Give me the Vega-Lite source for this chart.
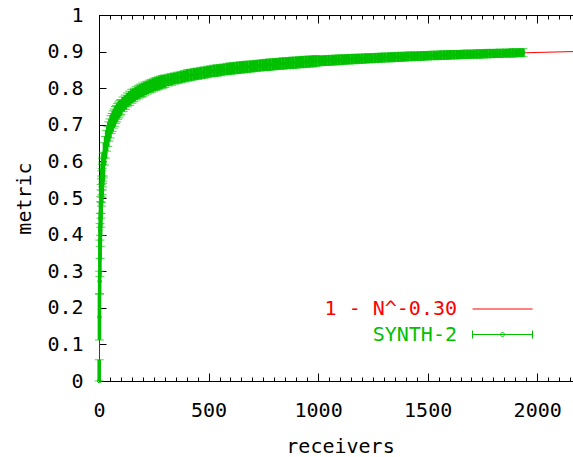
{
  "$schema": "https://vega.github.io/schema/vega-lite/v6.json",
  "width": 482,
  "height": 366,
  "autosize": {"type": "none"},
  "padding": {"left": 99, "top": 15, "right": 0, "bottom": 76},
  "background": "white",
  "config": {
    "font": "DejaVu Sans Mono",
    "view": {"stroke": "#000", "strokeWidth": 1},
    "axis": {
      "grid": false,
      "labelFont": "DejaVu Sans Mono",
      "labelFontSize": 20,
      "labelColor": "#000",
      "titleFont": "DejaVu Sans Mono",
      "titleFontSize": 20,
      "titleFontWeight": "normal",
      "titleColor": "#000",
      "domainColor": "#000",
      "tickColor": "#000",
      "labelFlush": false,
      "labelOverlap": false
    }
  },
  "datasets": {
    "curve": [
      {"N": 1, "metric": 0},
      {"N": 1.5, "metric": 0.1145},
      {"N": 2, "metric": 0.1877},
      {"N": 3, "metric": 0.2808},
      {"N": 4, "metric": 0.3402},
      {"N": 5, "metric": 0.383},
      {"N": 7, "metric": 0.4422},
      {"N": 10, "metric": 0.4988},
      {"N": 15, "metric": 0.5562},
      {"N": 20, "metric": 0.5929},
      {"N": 30, "metric": 0.6395},
      {"N": 50, "metric": 0.6907},
      {"N": 75, "metric": 0.7262},
      {"N": 100, "metric": 0.7488},
      {"N": 150, "metric": 0.7776},
      {"N": 200, "metric": 0.796},
      {"N": 300, "metric": 0.8194},
      {"N": 400, "metric": 0.8343},
      {"N": 500, "metric": 0.8451},
      {"N": 700, "metric": 0.8599},
      {"N": 1000, "metric": 0.8741},
      {"N": 1300, "metric": 0.8836},
      {"N": 1600, "metric": 0.8907},
      {"N": 2000, "metric": 0.8977},
      {"N": 2200, "metric": 0.9006}
    ],
    "synth": [
      {"N": 1, "mean": 0, "lo": 0, "hi": 0.058},
      {"N": 2, "mean": 0.175, "lo": 0.112, "hi": 0.238},
      {"N": 3, "mean": 0.272, "lo": 0.238, "hi": 0.3},
      {"N": 4, "mean": 0.335, "lo": 0.285, "hi": 0.385},
      {"N": 5, "mean": 0.385, "lo": 0.335, "hi": 0.43},
      {"N": 6, "mean": 0.412, "lo": 0.368, "hi": 0.458},
      {"N": 7, "mean": 0.445, "lo": 0.398, "hi": 0.49},
      {"N": 8, "mean": 0.462, "lo": 0.42, "hi": 0.505},
      {"N": 9, "mean": 0.485, "lo": 0.445, "hi": 0.522},
      {"N": 10, "mean": 0.497, "lo": 0.458, "hi": 0.537},
      {"N": 11, "mean": 0.515, "lo": 0.478, "hi": 0.552},
      {"N": 12, "mean": 0.523, "lo": 0.488, "hi": 0.56},
      {"N": 13, "mean": 0.539, "lo": 0.502, "hi": 0.574},
      {"N": 14, "mean": 0.545, "lo": 0.51, "hi": 0.581},
      {"N": 15, "mean": 0.558, "lo": 0.522, "hi": 0.592},
      {"N": 16, "mean": 0.563, "lo": 0.53, "hi": 0.598},
      {"N": 17, "mean": 0.575, "lo": 0.54, "hi": 0.608},
      {"N": 18, "mean": 0.578, "lo": 0.546, "hi": 0.612},
      {"N": 19, "mean": 0.589, "lo": 0.555, "hi": 0.621},
      {"N": 20, "mean": 0.592, "lo": 0.56, "hi": 0.625},
      {"N": 25, "mean": 0.621, "lo": 0.59, "hi": 0.651},
      {"N": 30, "mean": 0.638, "lo": 0.609, "hi": 0.668},
      {"N": 35, "mean": 0.657, "lo": 0.628, "hi": 0.685},
      {"N": 40, "mean": 0.668, "lo": 0.641, "hi": 0.696},
      {"N": 45, "mean": 0.682, "lo": 0.655, "hi": 0.708},
      {"N": 50, "mean": 0.69, "lo": 0.664, "hi": 0.716},
      {"N": 55, "mean": 0.701, "lo": 0.676, "hi": 0.725},
      {"N": 60, "mean": 0.706, "lo": 0.682, "hi": 0.731},
      {"N": 65, "mean": 0.715, "lo": 0.691, "hi": 0.738},
      {"N": 70, "mean": 0.719, "lo": 0.696, "hi": 0.743},
      {"N": 75, "mean": 0.727, "lo": 0.704, "hi": 0.75},
      {"N": 80, "mean": 0.73, "lo": 0.708, "hi": 0.753},
      {"N": 85, "mean": 0.737, "lo": 0.715, "hi": 0.758},
      {"N": 90, "mean": 0.74, "lo": 0.719, "hi": 0.762},
      {"N": 95, "mean": 0.745, "lo": 0.724, "hi": 0.766},
      {"N": 100, "mean": 0.748, "lo": 0.728, "hi": 0.769},
      {"N": 110, "mean": 0.756, "lo": 0.736, "hi": 0.776},
      {"N": 120, "mean": 0.761, "lo": 0.742, "hi": 0.781},
      {"N": 130, "mean": 0.768, "lo": 0.749, "hi": 0.787},
      {"N": 140, "mean": 0.772, "lo": 0.753, "hi": 0.792},
      {"N": 150, "mean": 0.778, "lo": 0.759, "hi": 0.797},
      {"N": 160, "mean": 0.781, "lo": 0.763, "hi": 0.8},
      {"N": 170, "mean": 0.786, "lo": 0.768, "hi": 0.804},
      {"N": 180, "mean": 0.789, "lo": 0.771, "hi": 0.808},
      {"N": 190, "mean": 0.793, "lo": 0.775, "hi": 0.811},
      {"N": 200, "mean": 0.795, "lo": 0.777, "hi": 0.814},
      {"N": 210, "mean": 0.799, "lo": 0.781, "hi": 0.817},
      {"N": 220, "mean": 0.801, "lo": 0.784, "hi": 0.819},
      {"N": 230, "mean": 0.805, "lo": 0.787, "hi": 0.822},
      {"N": 240, "mean": 0.806, "lo": 0.789, "hi": 0.824},
      {"N": 250, "mean": 0.81, "lo": 0.792, "hi": 0.827},
      {"N": 260, "mean": 0.811, "lo": 0.794, "hi": 0.829},
      {"N": 270, "mean": 0.814, "lo": 0.796, "hi": 0.831},
      {"N": 280, "mean": 0.815, "lo": 0.798, "hi": 0.833},
      {"N": 290, "mean": 0.818, "lo": 0.8, "hi": 0.835},
      {"N": 300, "mean": 0.819, "lo": 0.802, "hi": 0.836},
      {"N": 315, "mean": 0.822, "lo": 0.806, "hi": 0.838},
      {"N": 330, "mean": 0.824, "lo": 0.808, "hi": 0.84},
      {"N": 345, "mean": 0.826, "lo": 0.811, "hi": 0.842},
      {"N": 360, "mean": 0.828, "lo": 0.813, "hi": 0.844},
      {"N": 375, "mean": 0.831, "lo": 0.815, "hi": 0.846},
      {"N": 390, "mean": 0.833, "lo": 0.817, "hi": 0.848},
      {"N": 405, "mean": 0.835, "lo": 0.819, "hi": 0.851},
      {"N": 420, "mean": 0.836, "lo": 0.821, "hi": 0.852},
      {"N": 435, "mean": 0.838, "lo": 0.823, "hi": 0.854},
      {"N": 450, "mean": 0.84, "lo": 0.824, "hi": 0.855},
      {"N": 465, "mean": 0.841, "lo": 0.826, "hi": 0.857},
      {"N": 480, "mean": 0.843, "lo": 0.827, "hi": 0.858},
      {"N": 495, "mean": 0.845, "lo": 0.829, "hi": 0.86},
      {"N": 510, "mean": 0.846, "lo": 0.831, "hi": 0.861},
      {"N": 525, "mean": 0.847, "lo": 0.832, "hi": 0.863},
      {"N": 540, "mean": 0.848, "lo": 0.833, "hi": 0.864},
      {"N": 555, "mean": 0.85, "lo": 0.834, "hi": 0.865},
      {"N": 570, "mean": 0.851, "lo": 0.836, "hi": 0.866},
      {"N": 585, "mean": 0.852, "lo": 0.837, "hi": 0.868},
      {"N": 600, "mean": 0.853, "lo": 0.838, "hi": 0.869},
      {"N": 615, "mean": 0.854, "lo": 0.839, "hi": 0.87},
      {"N": 630, "mean": 0.855, "lo": 0.84, "hi": 0.871},
      {"N": 645, "mean": 0.856, "lo": 0.841, "hi": 0.872},
      {"N": 660, "mean": 0.857, "lo": 0.842, "hi": 0.873},
      {"N": 675, "mean": 0.858, "lo": 0.843, "hi": 0.874},
      {"N": 690, "mean": 0.859, "lo": 0.844, "hi": 0.874},
      {"N": 705, "mean": 0.86, "lo": 0.845, "hi": 0.875},
      {"N": 720, "mean": 0.861, "lo": 0.846, "hi": 0.876},
      {"N": 735, "mean": 0.862, "lo": 0.847, "hi": 0.877},
      {"N": 750, "mean": 0.863, "lo": 0.848, "hi": 0.878},
      {"N": 765, "mean": 0.863, "lo": 0.848, "hi": 0.879},
      {"N": 780, "mean": 0.864, "lo": 0.849, "hi": 0.88},
      {"N": 795, "mean": 0.865, "lo": 0.85, "hi": 0.88},
      {"N": 810, "mean": 0.866, "lo": 0.851, "hi": 0.881},
      {"N": 825, "mean": 0.867, "lo": 0.852, "hi": 0.882},
      {"N": 840, "mean": 0.867, "lo": 0.852, "hi": 0.883},
      {"N": 855, "mean": 0.868, "lo": 0.853, "hi": 0.883},
      {"N": 870, "mean": 0.869, "lo": 0.854, "hi": 0.884},
      {"N": 885, "mean": 0.869, "lo": 0.854, "hi": 0.885},
      {"N": 900, "mean": 0.87, "lo": 0.855, "hi": 0.885},
      {"N": 915, "mean": 0.871, "lo": 0.856, "hi": 0.886},
      {"N": 930, "mean": 0.871, "lo": 0.856, "hi": 0.887},
      {"N": 945, "mean": 0.872, "lo": 0.857, "hi": 0.887},
      {"N": 960, "mean": 0.873, "lo": 0.858, "hi": 0.888},
      {"N": 975, "mean": 0.873, "lo": 0.858, "hi": 0.888},
      {"N": 990, "mean": 0.874, "lo": 0.859, "hi": 0.889},
      {"N": 1005, "mean": 0.874, "lo": 0.861, "hi": 0.888},
      {"N": 1020, "mean": 0.875, "lo": 0.862, "hi": 0.888},
      {"N": 1035, "mean": 0.875, "lo": 0.862, "hi": 0.889},
      {"N": 1050, "mean": 0.876, "lo": 0.863, "hi": 0.889},
      {"N": 1065, "mean": 0.876, "lo": 0.863, "hi": 0.89},
      {"N": 1080, "mean": 0.877, "lo": 0.864, "hi": 0.89},
      {"N": 1095, "mean": 0.877, "lo": 0.864, "hi": 0.891},
      {"N": 1110, "mean": 0.878, "lo": 0.865, "hi": 0.891},
      {"N": 1125, "mean": 0.878, "lo": 0.866, "hi": 0.891},
      {"N": 1140, "mean": 0.879, "lo": 0.866, "hi": 0.892},
      {"N": 1155, "mean": 0.879, "lo": 0.867, "hi": 0.892},
      {"N": 1170, "mean": 0.88, "lo": 0.867, "hi": 0.893},
      {"N": 1185, "mean": 0.88, "lo": 0.868, "hi": 0.893},
      {"N": 1200, "mean": 0.881, "lo": 0.868, "hi": 0.893},
      {"N": 1215, "mean": 0.881, "lo": 0.869, "hi": 0.894},
      {"N": 1230, "mean": 0.882, "lo": 0.869, "hi": 0.894},
      {"N": 1245, "mean": 0.882, "lo": 0.87, "hi": 0.894},
      {"N": 1260, "mean": 0.882, "lo": 0.87, "hi": 0.895},
      {"N": 1275, "mean": 0.883, "lo": 0.871, "hi": 0.895},
      {"N": 1290, "mean": 0.883, "lo": 0.871, "hi": 0.896},
      {"N": 1305, "mean": 0.884, "lo": 0.872, "hi": 0.896},
      {"N": 1320, "mean": 0.884, "lo": 0.872, "hi": 0.896},
      {"N": 1335, "mean": 0.884, "lo": 0.872, "hi": 0.897},
      {"N": 1350, "mean": 0.885, "lo": 0.873, "hi": 0.897},
      {"N": 1365, "mean": 0.885, "lo": 0.873, "hi": 0.898},
      {"N": 1380, "mean": 0.886, "lo": 0.874, "hi": 0.898},
      {"N": 1395, "mean": 0.886, "lo": 0.874, "hi": 0.898},
      {"N": 1410, "mean": 0.887, "lo": 0.875, "hi": 0.899},
      {"N": 1425, "mean": 0.887, "lo": 0.875, "hi": 0.899},
      {"N": 1440, "mean": 0.887, "lo": 0.876, "hi": 0.899},
      {"N": 1455, "mean": 0.887, "lo": 0.876, "hi": 0.899},
      {"N": 1470, "mean": 0.888, "lo": 0.876, "hi": 0.9},
      {"N": 1485, "mean": 0.888, "lo": 0.877, "hi": 0.9},
      {"N": 1500, "mean": 0.889, "lo": 0.877, "hi": 0.9},
      {"N": 1515, "mean": 0.889, "lo": 0.878, "hi": 0.901},
      {"N": 1530, "mean": 0.889, "lo": 0.878, "hi": 0.901},
      {"N": 1545, "mean": 0.89, "lo": 0.878, "hi": 0.901},
      {"N": 1560, "mean": 0.89, "lo": 0.879, "hi": 0.902},
      {"N": 1575, "mean": 0.89, "lo": 0.879, "hi": 0.902},
      {"N": 1590, "mean": 0.891, "lo": 0.879, "hi": 0.902},
      {"N": 1605, "mean": 0.891, "lo": 0.88, "hi": 0.903},
      {"N": 1620, "mean": 0.891, "lo": 0.88, "hi": 0.903},
      {"N": 1635, "mean": 0.891, "lo": 0.88, "hi": 0.903},
      {"N": 1650, "mean": 0.892, "lo": 0.881, "hi": 0.903},
      {"N": 1665, "mean": 0.892, "lo": 0.881, "hi": 0.904},
      {"N": 1680, "mean": 0.892, "lo": 0.881, "hi": 0.904},
      {"N": 1695, "mean": 0.893, "lo": 0.882, "hi": 0.904},
      {"N": 1710, "mean": 0.893, "lo": 0.882, "hi": 0.904},
      {"N": 1725, "mean": 0.893, "lo": 0.882, "hi": 0.905},
      {"N": 1740, "mean": 0.893, "lo": 0.882, "hi": 0.905},
      {"N": 1755, "mean": 0.894, "lo": 0.883, "hi": 0.905},
      {"N": 1770, "mean": 0.894, "lo": 0.883, "hi": 0.906},
      {"N": 1785, "mean": 0.894, "lo": 0.883, "hi": 0.906},
      {"N": 1800, "mean": 0.895, "lo": 0.884, "hi": 0.906},
      {"N": 1815, "mean": 0.895, "lo": 0.884, "hi": 0.906},
      {"N": 1830, "mean": 0.895, "lo": 0.884, "hi": 0.907},
      {"N": 1845, "mean": 0.895, "lo": 0.885, "hi": 0.906},
      {"N": 1860, "mean": 0.896, "lo": 0.885, "hi": 0.907},
      {"N": 1875, "mean": 0.896, "lo": 0.885, "hi": 0.907},
      {"N": 1890, "mean": 0.896, "lo": 0.885, "hi": 0.908},
      {"N": 1905, "mean": 0.896, "lo": 0.886, "hi": 0.907},
      {"N": 1920, "mean": 0.896, "lo": 0.886, "hi": 0.908},
      {"N": 1935, "mean": 0.897, "lo": 0.886, "hi": 0.908}
    ]
  },
  "layer": [
    {
      "data": {"name": "curve"},
      "mark": {"type": "line", "strokeWidth": 1, "clip": true},
      "encoding": {
        "x": {
          "field": "N", "type": "quantitative",
          "scale": {"domain": [0, 2200], "nice": false, "zero": false},
          "axis": {
            "orient": "bottom", "values": [0, 500, 1000, 1500, 2000], "format": "d",
            "tickSize": -8, "labelPadding": 27, "title": "receivers", "titlePadding": 16
          }
        },
        "y": {
          "field": "metric", "type": "quantitative",
          "scale": {"domain": [0, 1], "nice": false},
          "axis": {
            "orient": "left", "values": [0, 0.1, 0.2, 0.3, 0.4, 0.5, 0.6, 0.7, 0.8, 0.9, 1], "format": "~g",
            "tickSize": -7, "labelPadding": 23, "title": "metric", "titlePadding": 12
          }
        },
        "color": {
          "datum": "1 - N^-0.30", "type": "nominal",
          "scale": {"domain": ["1 - N^-0.30", "SYNTH-2"], "range": ["#ff0000", "#00c000"]},
          "legend": {
            "orient": "none", "legendX": 373, "legendY": 284, "title": null, "padding": 0,
            "symbolSize": 3600, "symbolStrokeWidth": 1, "labelAlign": "right", "labelOffset": -76,
            "labelFont": "DejaVu Sans Mono", "labelFontSize": 20, "rowPadding": 5.5, "labelLimit": 400,
            "encode": {
              "symbols": {"update": {
                "shape": {"signal": "datum.value === 'SYNTH-2' ? 'M-1,0H1M-1,-0.133V0.133M1,-0.133V0.133M-0.067,0A0.067,0.067,0,1,1,0.067,0A0.067,0.067,0,1,1,-0.067,0' : 'M-1,0H1'"},
                "stroke": {"signal": "datum.value === 'SYNTH-2' ? '#00c000' : '#ff0000'"},
                "fill": {"value": "transparent"},
                "strokeWidth": {"value": 1},
                "opacity": {"value": 1},
                "size": {"value": 3600},
                "y": {"value": 10}
              }},
              "labels": {"update": {
                "fill": {"signal": "datum.value === 'SYNTH-2' ? '#00c000' : '#ff0000'"},
                "y": {"value": 10}
              }}
            }
          }
        }
      }
    },
    {
      "data": {"name": "synth"},
      "mark": {"type": "rule", "strokeWidth": 3.6},
      "encoding": {
        "x": {
          "field": "N", "type": "quantitative",
          "axis": {"orient": "top", "values": [0, 500, 1000, 1500, 2000], "tickSize": -8, "labels": false, "title": null}
        },
        "y": {"field": "lo", "type": "quantitative", "axis": null},
        "y2": {"field": "hi"},
        "color": {"datum": "SYNTH-2", "type": "nominal"}
      }
    },
    {
      "data": {"name": "synth"},
      "mark": {"type": "tick", "orient": "horizontal", "size": 9, "thickness": 1, "color": "#00c000"},
      "encoding": {
        "x": {
          "field": "N", "type": "quantitative",
          "axis": {"orient": "bottom", "values": [0,50,100,150,200,250,300,350,400,450,500,550,600,650,700,750,800,850,900,950,1000,1050,1100,1150,1200,1250,1300,1350,1400,1450,1500,1550,1600,1650,1700,1750,1800,1850,1900,1950,2000,2050,2100,2150,2200], "tickSize": -4, "labels": false, "domain": false, "title": null}
        },
        "y": {"field": "lo", "type": "quantitative", "axis": null}
      }
    },
    {
      "data": {"name": "synth"},
      "mark": {"type": "tick", "orient": "horizontal", "size": 9, "thickness": 1, "color": "#00c000"},
      "encoding": {
        "x": {
          "field": "N", "type": "quantitative",
          "axis": {"orient": "top", "values": [0,50,100,150,200,250,300,350,400,450,500,550,600,650,700,750,800,850,900,950,1000,1050,1100,1150,1200,1250,1300,1350,1400,1450,1500,1550,1600,1650,1700,1750,1800,1850,1900,1950,2000,2050,2100,2150,2200], "tickSize": -4, "labels": false, "domain": false, "title": null}
        },
        "y": {"field": "hi", "type": "quantitative", "axis": null}
      }
    },
    {
      "data": {"name": "synth"},
      "mark": {"type": "point", "shape": "circle", "filled": false, "size": 12, "strokeWidth": 1, "color": "#00c000", "opacity": 1},
      "encoding": {
        "x": {"field": "N", "type": "quantitative", "axis": null},
        "y": {"field": "mean", "type": "quantitative", "axis": null}
      }
    }
  ],
  "resolve": {"axis": {"x": "independent", "y": "independent"}}
}
